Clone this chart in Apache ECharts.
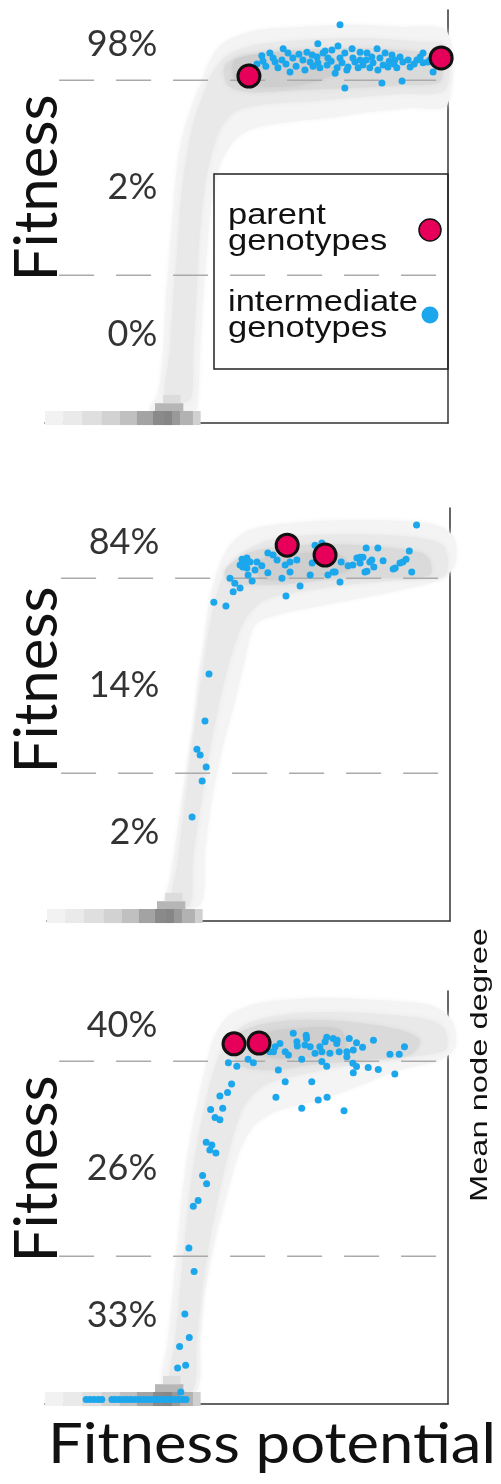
<!DOCTYPE html>
<html><head><meta charset="utf-8">
<script src="https://cdn.jsdelivr.net/npm/echarts@6/dist/echarts.min.js"></script>
<style>html,body{margin:0;padding:0;background:#fff;} #c{width:501px;height:1484px;}</style>
</head><body><div id="c"></div>
<script>
// ---------- DATA ----------
const bandLabels = [['98%','2%','0%'], ['84%','14%','2%'], ['40%','26%','33%']];
const bandLabelY = [91.7, 57, 21.5];
const bandLabelX = 28;
const dashLevels = [83, 35.8];
const dashRange = [3.5, 99];

const parents1 = [[50.6,84.0],[98.3,88.4]];
const parents2 = [[59.6,91.0],[69.0,88.6]];
const parents3 = [[46.9,87.2],[53.1,87.4]];

const blue1 = [[73.2,96.4],[74.4,81.1],[83.6,82.3],[88.6,82.8],[96.3,85.0],[93.8,89.6],[59.1,90.6],[67.7,91.8],[54.1,87.6],[52.6,86.9],[56.6,88.4],[57.8,86.0],[60.8,85.0],[61.5,88.4],[63.0,89.3],[65.0,89.8],[65.8,87.4],[67.5,88.6],[68.2,86.0],[69.5,90.1],[70.2,88.4],[55.8,89.6],[58.8,87.9],[71.2,90.3],[78.2,89.8],[82.4,90.6],[93.8,87.2],[92.3,87.9],[90.6,86.2],[88.8,87.4],[86.8,87.9],[85.1,86.2],[83.1,88.4],[81.1,88.6],[78.9,86.7],[76.4,88.4],[75.2,86.2],[72.5,86.0],[70.0,86.7],[72.0,84.7],[81.4,87.2],[84.4,89.6],[79.9,89.6],[73.2,88.4],[77.7,86.0],[82.6,85.5],[87.3,86.0],[69.0,89.6],[53.8,88.9],[59.8,86.9],[64.0,87.9],[66.5,86.4],[73.7,87.2],[76.9,87.4],[79.7,87.9],[85.4,87.6],[88.1,88.6],[90.1,87.9],[91.6,86.9],[95.0,87.4],[74.4,89.6],[76.2,90.6],[71.0,87.6],[62.3,86.4],[57.1,87.4],[54.8,86.4],[86.1,89.1],[80.6,86.0],[74.9,85.5],[67.7,87.2],[64.5,85.5],[78.2,87.9],[83.9,86.7],[93.1,88.6],[95.5,87.9],[50.9,86.2],[72.7,91.3],[66.3,89.1],[60.3,89.6],[86.6,86.9]];

const blue2 = [[91.7,95.9],[89.9,89.6],[90.5,84.5],[86.4,85.5],[88.3,86.9],[89.1,87.6],[83.4,87.2],[82.1,90.3],[79.2,90.3],[79.4,84.7],[81.1,85.7],[75.9,86.2],[76.9,87.9],[78.4,88.1],[80.1,86.9],[72.7,82.1],[73.0,86.9],[71.5,84.5],[69.7,83.8],[68.2,91.5],[66.5,91.0],[65.8,86.7],[65.3,83.8],[62.8,81.1],[60.3,84.5],[59.1,86.2],[59.3,78.7],[58.3,83.0],[57.1,87.4],[54.8,84.3],[54.8,89.1],[56.1,88.6],[52.1,86.9],[50.9,82.3],[49.9,83.8],[49.6,85.5],[47.9,86.2],[48.4,87.6],[49.1,86.7],[45.4,83.0],[46.6,81.8],[46.2,79.7],[47.9,80.6],[41.4,77.2],[44.4,76.3],[40.2,59.8],[39.2,48.4],[37.2,41.6],[38.0,40.2],[39.5,37.3],[38.5,33.9],[36.0,25.2],[48.6,85.7],[50.4,86.9],[49.6,87.9],[62.0,87.4],[60.3,86.9],[71.0,84.5],[77.7,86.7],[80.6,87.4],[78.9,84.5],[85.9,85.2],[87.6,86.7],[77.7,88.1],[74.7,86.0],[53.3,86.0],[51.6,85.0]];

const blue3 = [[61.6,89.8],[64.8,89.3],[64.9,88.5],[62.5,87.7],[62.6,86.7],[69.9,88.8],[71.5,88.5],[69.5,87.7],[72.4,87.3],[75.5,88.5],[77.3,87.5],[81.5,88.1],[78.8,86.4],[76.5,85.7],[74.9,85.3],[73.0,85.3],[70.7,84.9],[68.7,85.3],[67.0,84.9],[65.8,86.5],[64.5,86.9],[68.2,86.5],[58.3,87.3],[57.1,86.5],[59.6,85.3],[60.4,84.5],[55.8,85.3],[63.7,83.5],[57.9,80.9],[59.6,78.0],[57.3,74.3],[63.7,71.6],[66.2,78.0],[67.8,73.6],[70.0,74.3],[74.2,71.0],[68.7,82.9],[69.9,81.8],[76.4,82.5],[77.3,81.7],[76.5,80.2],[80.2,81.5],[82.7,81.0],[85.6,84.7],[87.9,84.7],[89.2,86.5],[86.8,79.9],[45.5,82.6],[47.6,81.8],[50.4,83.5],[51.7,82.6],[46.3,77.5],[45.3,75.4],[43.4,74.6],[44.1,71.6],[41.1,71.3],[42.2,69.4],[43.4,68.8],[40.0,63.4],[41.4,62.7],[40.9,61.5],[42.4,60.8],[39.1,55.3],[40.1,53.3],[38.0,49.3],[36.8,47.9],[35.7,37.8],[37.0,32.1],[34.7,21.8],[35.8,16.1],[33.4,13.9],[34.9,9.4],[32.9,8.7],[33.7,2.9],[74.9,84.1],[72.5,88.1],[56.7,85.3],
  [10.2,1.1],[11.2,1.1],[12.2,1.1],[13.2,1.1],[14.1,1.1],[16.6,1.1],[17.4,1.1],[18.4,1.1],[19.4,1.1],[20.3,1.1],[21.3,1.1],[22.3,1.1],[23.3,1.1],[24.3,1.1],[25.3,1.1],[26.3,1.1],[27.3,1.1],[28.3,1.1],[29.3,1.1],[30.3,1.1],[31.3,1.1],[32.3,1.1],[33.3,1.1],[34.2,1.1],[35.0,1.1]];

// density contours (outer, mid, core, darkest) per panel
const density1 = [
  [[26,3],[28,7],[29.3,17.7],[30,29.8],[31,41.9],[32,54],[33,63.7],[34.5,70.9],[36.5,77],[38.5,81.8],[40.4,86.7],[42.9,90.8],[47.1,93.5],[53.4,95.2],[63.3,95.9],[75.7,96.4],[88.1,95.9],[99.8,94.7],[99.8,77],[90.6,76.3],[80.6,75.3],[70.7,73.9],[60.8,72.9],[52.1,71.4],[47.1,68.5],[43.4,62.5],[41.4,54],[40.2,41.9],[39.2,29.8],[38.5,17.7],[38,5.6],[37.2,3]],
  [[30,5.6],[31,17.7],[31.8,29.8],[32.8,41.9],[33.7,54],[35,63.7],[36.7,72.2],[39.2,79.4],[41.7,85],[45.4,89.1],[52.1,91.5],[63.3,92.7],[78.2,93.2],[93.1,92.3],[99.3,91.5],[99.3,80.6],[88.1,79.7],[75.7,78.7],[63.3,77.7],[53.4,77],[47.1,75.3],[43.4,70.9],[40.4,61.3],[38.5,46.7],[37.5,29.8],[36.7,15.3],[36,5.6]],
  [[44.7,86.7],[50.9,89.1],[63.3,90.3],[78.2,90.8],[93.1,89.8],[98,88.4],[98,82.6],[88.1,81.8],[75.7,81.1],[63.3,80.6],[50.9,80.1],[45.4,81.8]],
  [[47.1,87.9],[58.3,89.8],[70.7,89.1],[73.2,85.5],[63.3,81.8],[50.9,81.6],[47.1,83]]
];
const density2 = [
  [[29.3,3.9],[30.5,9.9],[32,19.6],[33.5,29.3],[35,39],[36.5,48.7],[37.5,58.4],[39,68],[40.4,77.7],[42.4,85],[45.4,91],[50.4,94.7],[62.8,96.6],[77.7,97.1],[92.6,96.6],[98.3,95.2],[101.2,92.3],[101.2,86.2],[97.5,82.6],[87.6,80.1],[77.7,78.2],[67.7,76.3],[57.8,74.3],[51.6,71.7],[49.1,63.2],[46.7,53.5],[43.4,41.4],[40.9,29.3],[39.2,17.2],[38,3.9]],
  [[31,3.9],[32.5,14.8],[34,26.9],[35.5,39],[37.2,51.1],[39,63.2],[40.9,74.1],[43.4,82.6],[47.9,88.6],[55.3,92.3],[67.7,93.5],[82.6,93.5],[95,92.3],[98.8,90.3],[98.8,83.8],[87.6,82.6],[75.2,81.4],[62.8,79.7],[54.1,77.7],[49.1,72.9],[45.4,63.2],[42.4,51.1],[40,39],[38,26.9],[36.2,14.8],[35.5,3.9]],
  [[44.2,85],[50.4,89.3],[62.8,91],[77.7,91],[92.6,89.3],[95,87.4],[95,83.8],[82.6,83],[70.2,82.6],[60.3,81.6],[50.4,81.4],[45.4,82.1]],
  [[52.9,87.4],[62.8,89.1],[72.7,88.6],[75.2,85],[62.8,83],[52.9,83]]
];
const density3 = [
  [[29.3,3.4],[30.5,15.5],[31.8,27.6],[33,39.7],[34.2,51.8],[36,63.9],[38,73.6],[40,82.1],[42.2,89.3],[45.9,94.2],[53.3,97.1],[68.2,98.3],[83.1,97.8],[95.5,96.6],[99.8,94.2],[101.7,91],[101.7,86.2],[98,83.3],[88.1,80.9],[78.2,77.2],[68.2,73.6],[58.3,71.2],[52.1,67.6],[48.4,61.5],[45.4,51.8],[42.2,39.7],[39.7,27.6],[38.5,15.5],[37.7,3.4]],
  [[31,3.4],[32.3,15.5],[33.5,27.6],[34.7,39.7],[36,51.8],[37.7,62.7],[39.7,72.4],[41.9,80.9],[44.7,86.9],[49.6,91.8],[58.3,94.2],[70.7,94.9],[85.6,94.2],[95.5,93],[99.3,90.6],[99.3,85.7],[88.1,83.8],[75.7,82.1],[63.3,79.7],[54.6,77.2],[49.6,72.4],[46.4,63.9],[43.4,51.8],[40.9,39.7],[39,27.6],[37.7,15.5],[36.7,3.4]],
  [[45.9,88.1],[53.3,91.8],[63.3,93],[75.7,92.5],[88.1,90.6],[93.1,88.1],[90.6,84.5],[78.2,83.3],[65.8,82.1],[55.8,80.9],[48.4,82.1]],
  [[53.3,89.3],[63.3,91],[73.2,90.6],[74.4,85.7],[63.3,83.8],[53.8,84.5]]
];
const densityShades = ['#f4f4f4', '#e9e9e9', '#dadada', '#cecece'];

// bottom strip of the density (x edges) and grey shades, plus small bump above it
const stripEdges = [0, 4.5, 9.2, 14.1, 18.6, 22.8, 26.8, 29.3, 31.5, 33.5, 36.7, 38.5];
const stripShades = ['#f2f2f2','#eaeaea','#dfdfdf','#d2d2d2','#c0c0c0','#a3a3a3','#8a8a8a','#868686','#999999','#b2b2b2','#d0d0d0'];
const stripY = [-0.5, 2.9];
const bumpCells = [[27.3, 34.2, 2.9, 4.8, '#b6b6b6'], [29.3, 33.5, 4.8, 6.8, '#dcdcdc']];

// ---------- BUILD ----------
const BLUE = '#1ca7ec', RED = '#e6005a', INK = '#111';
const panels = [
  {grid:{left:45, top:10, width:403, height:413}, blue:blue1, red:parents1, dens:density1},
  {grid:{left:47, top:508, width:403, height:413}, blue:blue2, red:parents2, dens:density2},
  {grid:{left:45, top:991, width:403, height:413}, blue:blue3, red:parents3, dens:density3}
];
const stripCells = [];
for (let i = 0; i < stripShades.length; i++) stripCells.push([stripEdges[i], stripEdges[i+1], stripY[0], stripY[1], stripShades[i]]);
bumpCells.forEach(c => stripCells.push(c));

const grids = [], xAxes = [], yAxes = [], series = [];
panels.forEach((p, i) => {
  grids.push(p.grid);
  xAxes.push({gridIndex:i, type:'value', min:0, max:100, axisLine:{show:true, onZero:false, lineStyle:{color:'#333', width:1.5}}, axisTick:{show:false}, axisLabel:{show:false}, splitLine:{show:false}});
  yAxes.push({gridIndex:i, type:'value', min:0, max:100, position:'right', axisLine:{show:true, onZero:false, lineStyle:{color:'#333', width:1.5}}, axisTick:{show:false}, axisLabel:{show:false}, splitLine:{show:false}});
  const dens = p.dens;
  series.push({
    type:'custom', xAxisIndex:i, yAxisIndex:i, z:1, silent:true,
    data: dens.map(l => l[0]),
    renderItem: (params, api) => {
      const pts = dens[params.dataIndex].map(q => api.coord(q));
      const col = densityShades[params.dataIndex];
      return {type:'polygon', shape:{points:pts, smooth:0.3}, style:{fill:col, shadowBlur:5, shadowColor:col}};
    }
  });
  series.push({
    type:'custom', xAxisIndex:i, yAxisIndex:i, z:1, silent:true,
    data: stripCells.map(c => [c[0], c[2]]),
    renderItem: (params, api) => {
      const c = stripCells[params.dataIndex];
      const a = api.coord([c[0], c[3]]), b = api.coord([c[1], c[2]]);
      return {type:'rect', shape:{x:a[0], y:a[1], width:b[0]-a[0]+0.5, height:b[1]-a[1]}, style:{fill:c[4]}};
    }
  });
  series.push({
    type:'custom', xAxisIndex:i, yAxisIndex:i, z:2, silent:true,
    data: dashLevels.map(y => [dashRange[0], y]),
    renderItem: (params, api) => {
      const y = dashLevels[params.dataIndex];
      const a = api.coord([dashRange[0], y]), b = api.coord([dashRange[1], y]);
      return {type:'line', shape:{x1:a[0], y1:a[1], x2:b[0], y2:b[1]}, style:{stroke:'#aaaaaa', lineWidth:1.5, lineDash:[35,22]}};
    }
  });
  series.push({type:'scatter', xAxisIndex:i, yAxisIndex:i, z:3, symbolSize:7, itemStyle:{color:BLUE, opacity:1}, data:p.blue, silent:true});
  series.push({type:'scatter', xAxisIndex:i, yAxisIndex:i, z:4, symbolSize:22, itemStyle:{color:RED, borderColor:INK, borderWidth:3, opacity:1}, data:p.red, silent:true});
  series.push({type:'scatter', xAxisIndex:i, yAxisIndex:i, z:4, symbolSize:1, itemStyle:{color:'rgba(0,0,0,0)'}, silent:true,
    data: bandLabelY.map((y, k) => [bandLabelX, y, bandLabels[i][k]]),
    label:{show:true, position:'left', distance:0, formatter: q => q.data[2], fontSize:36, fontFamily:'Lato', color:'#000'}});
});

const graphic = [];
[188, 680, 1169].forEach(yc => graphic.push({type:'text', x:38, y:yc, rotation:Math.PI/2, z:10,
  style:{text:'Fitness', fontSize:60, fontFamily:'Lato', fill:INK, align:'center', verticalAlign:'middle', textAlign:'center', textVerticalAlign:'middle'}}));
graphic.push({type:'text', x:272, y:1445, scaleX:1.1, z:10, style:{text:'Fitness potential', fontSize:56, fontFamily:'Lato', fill:INK, align:'center', verticalAlign:'middle', textAlign:'center', textVerticalAlign:'middle'}});
graphic.push({type:'text', x:480, y:1065, rotation:Math.PI/2, scaleX:1.36, z:10, style:{text:'Mean node degree', fontSize:24, fontFamily:'Liberation Sans', fill:INK, align:'center', verticalAlign:'middle', textAlign:'center', textVerticalAlign:'middle'}});
// legend
graphic.push({type:'rect', z:10, shape:{x:214, y:174, width:234, height:195}, style:{fill:'none', stroke:'#222', lineWidth:1.5}});
graphic.push({type:'text', x:228, y:229, scaleX:1.15, z:10, style:{text:'parent\ngenotypes', fontSize:30, lineHeight:26, fontFamily:'Liberation Sans', fill:INK, align:'left', verticalAlign:'middle', textAlign:'left', textVerticalAlign:'middle'}});
graphic.push({type:'text', x:228, y:316, scaleX:1.15, z:10, style:{text:'intermediate\ngenotypes', fontSize:30, lineHeight:26, fontFamily:'Liberation Sans', fill:INK, align:'left', verticalAlign:'middle', textAlign:'left', textVerticalAlign:'middle'}});
graphic.push({type:'circle', z:10, shape:{cx:430, cy:230, r:11}, style:{fill:RED, stroke:INK, lineWidth:1.5}});
graphic.push({type:'circle', z:10, shape:{cx:430, cy:315, r:8.5}, style:{fill:BLUE}});

const chart = echarts.init(document.getElementById('c'), null, {renderer:'canvas'});
chart.setOption({animation:false, backgroundColor:'#fff', grid:grids, xAxis:xAxes, yAxis:yAxes, series:series, graphic:graphic});
</script></body></html>
